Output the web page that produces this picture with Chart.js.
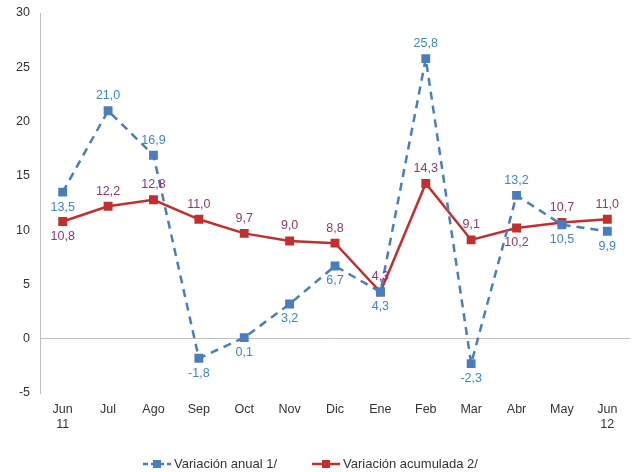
<!DOCTYPE html>
<html>
<head>
<meta charset="utf-8">
<script src="https://cdn.jsdelivr.net/npm/chart.js@4"></script>
<style>
  html, body { margin: 0; padding: 0; background: #fff; }
  #wrap { width: 635px; height: 472px; }
</style>
</head>
<body>
<div id="wrap"><canvas id="grafico"></canvas></div>
<script>
// datos del gráfico
const meses = [['Jun', '11'], 'Jul', 'Ago', 'Sep', 'Oct', 'Nov', 'Dic', 'Ene', 'Feb', 'Mar', 'Abr', 'May', ['Jun', '12']];
const variacionAnual = [13.5, 21.0, 16.9, -1.8, 0.1, 3.2, 6.7, 4.3, 25.8, -2.3, 13.2, 10.5, 9.9];
const variacionAcumulada = [10.8, 12.2, 12.8, 11.0, 9.7, 9.0, 8.8, 4.3, 14.3, 9.1, 10.2, 10.7, 11.0];
const nombresSeries = ['Variación anual 1/', 'Variación acumulada 2/'];

// donde va cada etiqueta (arriba / abajo del punto)
const posAnual = ['b', 'a', 'a', 'b', 'b', 'b', 'b', 'b', 'a', 'b', 'a', 'b', 'b'];
const posAcumulada = ['b', 'a', 'a', 'a', 'a', 'a', 'a', 'a', 'a', 'a', 'b', 'a', 'a'];

const AZUL = '#4a7ebb';
const ROJO = '#c0302f';
const TXT_AZUL = '#3d87c4';
const TXT_ROJO = '#8e3a6a';
const FUENTE = '"Liberation Sans", Arial, sans-serif';

const etiquetasPlugin = {
    id: 'etiquetas',
    afterDatasetsDraw(chart) {
        const ctx = chart.ctx;
        ctx.save();
        ctx.font = '12.5px ' + FUENTE;
        ctx.textAlign = 'center';
        ctx.textBaseline = 'middle';
        const conf = [[posAnual, TXT_AZUL], [posAcumulada, TXT_ROJO]];
        chart.data.datasets.forEach((ds, i) => {
            const meta = chart.getDatasetMeta(i);
            meta.data.forEach((pt, j) => {
                const v = ds.data[j];
                const dy = conf[i][0][j] === 'a' ? -15 : 15;
                ctx.fillStyle = conf[i][1];
                ctx.fillText(v.toFixed(1).replace('.', ','), pt.x, pt.y + dy);
            });
        });
        ctx.restore();
    },
    afterDraw(chart) {
        // leyenda abajo, línea + cuadrado
        const ctx = chart.ctx;
        ctx.save();
        ctx.font = '13px ' + FUENTE;
        ctx.textBaseline = 'middle';
        const y = 464;
        const items = [
            { x: 143, color: AZUL, dash: [5, 3], text: nombresSeries[0] },
            { x: 312, color: ROJO, dash: [], text: nombresSeries[1] }
        ];
        items.forEach(it => {
            ctx.strokeStyle = it.color;
            ctx.lineWidth = 2.5;
            ctx.setLineDash(it.dash);
            ctx.beginPath();
            ctx.moveTo(it.x, y);
            ctx.lineTo(it.x + 28, y);
            ctx.stroke();
            ctx.setLineDash([]);
            ctx.fillStyle = it.color;
            ctx.fillRect(it.x + 10, y - 4, 8, 8);
            ctx.fillStyle = '#333';
            ctx.fillText(it.text, it.x + 31, y);
        });
        ctx.restore();
    }
};

new Chart(document.getElementById('grafico'), {
    type: 'line',
    data: {
        labels: meses,
        datasets: [
            {
                label: nombresSeries[0],
                data: variacionAnual,
                borderColor: AZUL,
                backgroundColor: AZUL,
                borderWidth: 2.5,
                borderDash: [8, 6],
                pointStyle: 'rect',
                pointRadius: 4.5,
                pointHoverRadius: 4.5,
                tension: 0
            },
            {
                label: nombresSeries[1],
                data: variacionAcumulada,
                borderColor: ROJO,
                backgroundColor: ROJO,
                borderWidth: 2.5,
                pointStyle: 'rect',
                pointRadius: 4.5,
                pointHoverRadius: 4.5,
                tension: 0
            }
        ]
    },
    options: {
        responsive: true,
        maintainAspectRatio: false,
        animation: false,
        devicePixelRatio: 1,
        layout: { autoPadding: false, padding: { top: 13, right: 5, left: 0, bottom: 0 } },
        plugins: {
            legend: { display: false },
            tooltip: { enabled: false }
        },
        scales: {
            x: {
                offset: true,
                grid: { display: false },
                border: { display: false },
                ticks: {
                    color: '#333',
                    font: { family: FUENTE, size: 12.5 },
                    maxRotation: 0,
                    autoSkip: false,
                    padding: 1
                },
                afterFit(scale) { scale.height = 79; }
            },
            y: {
                min: -5,
                max: 30,
                ticks: {
                    stepSize: 5,
                    color: '#333',
                    font: { family: FUENTE, size: 12.5 },
                    padding: 10
                },
                grid: {
                    drawTicks: false,
                    color: c => c.tick && c.tick.value === 0 ? '#bfbfbf' : 'rgba(0,0,0,0)'
                },
                border: { display: true, color: '#bfbfbf' },
                afterFit(scale) {
                    scale.width = 40;
                    scale.paddingTop = 0;
                    scale.paddingBottom = 0;
                }
            }
        }
    },
    plugins: [etiquetasPlugin]
});
</script>
</body>
</html>
